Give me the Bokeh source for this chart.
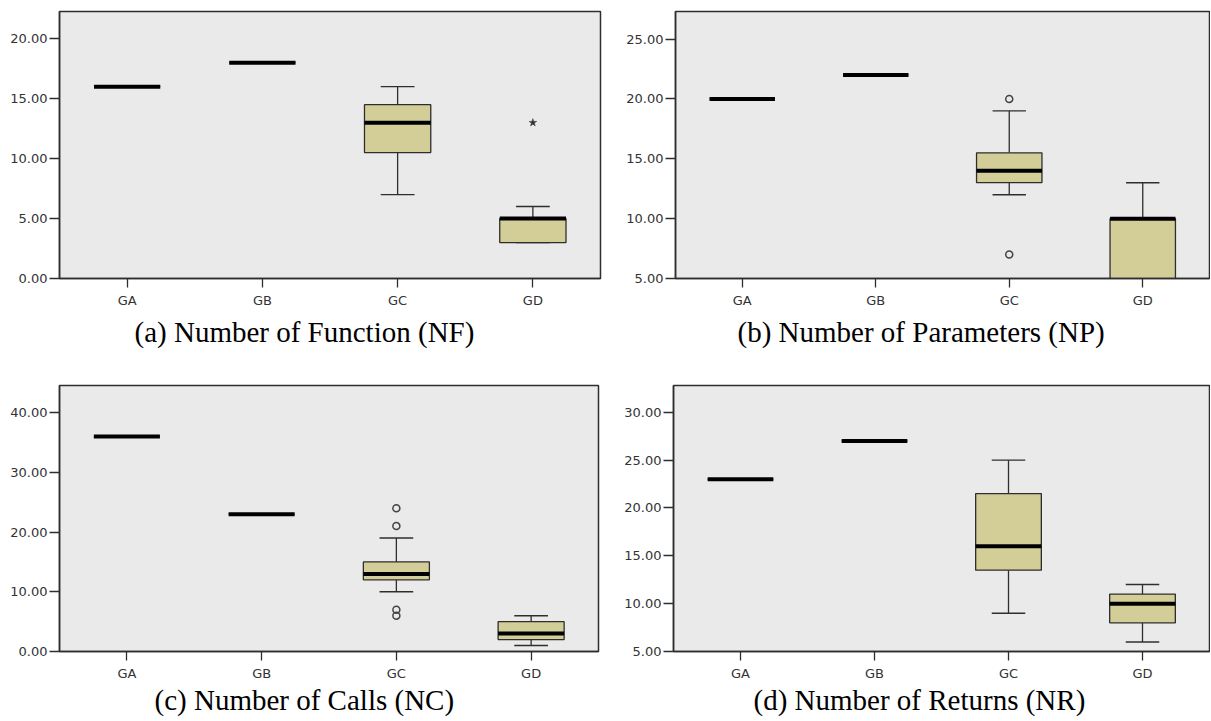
from bokeh.plotting import figure
from bokeh.layouts import row, column
from bokeh.models import Range1d, FixedTicker, PrintfTickFormatter, Title
from bokeh.embed import file_html
from bokeh.resources import INLINE

cats = ["GA", "GB", "GC", "GD"]

# (a) Number of Function (NF)
nf_low = [16, 18, 7, 3]
nf_q1 = [16, 18, 10.5, 3]
nf_med = [16, 18, 13, 5]
nf_q3 = [16, 18, 14.5, 5]
nf_high = [16, 18, 16, 6]
nf_out_cat = []
nf_out_val = []
nf_ext_cat = ["GD"]
nf_ext_val = [13]
nf_ticks = [0, 5, 10, 15, 20]

# (b) Number of Parameters (NP)
np_low = [20, 22, 12, 5]
np_q1 = [20, 22, 13, 5]
np_med = [20, 22, 14, 10]
np_q3 = [20, 22, 15.5, 10]
np_high = [20, 22, 19, 13]
np_out_cat = ["GC", "GC"]
np_out_val = [20, 7]
np_ext_cat = []
np_ext_val = []
np_ticks = [5, 10, 15, 20, 25]

# (c) Number of Calls (NC)
nc_low = [36, 23, 10, 1]
nc_q1 = [36, 23, 12, 2]
nc_med = [36, 23, 13, 3]
nc_q3 = [36, 23, 15, 5]
nc_high = [36, 23, 19, 6]
nc_out_cat = ["GC", "GC", "GC", "GC"]
nc_out_val = [24, 21, 7, 6]
nc_ext_cat = []
nc_ext_val = []
nc_ticks = [0, 10, 20, 30, 40]

# (d) Number of Returns (NR)
nr_low = [23, 27, 9, 6]
nr_q1 = [23, 27, 13.5, 8]
nr_med = [23, 27, 16, 10]
nr_q3 = [23, 27, 21.5, 11]
nr_high = [23, 27, 25, 12]
nr_out_cat = []
nr_out_val = []
nr_ext_cat = []
nr_ext_val = []
nr_ticks = [5, 10, 15, 20, 25, 30]

captions = ["(a) Number of Function (NF)", "(b) Number of Parameters (NP)",
            "(c) Number of Calls (NC)", "(d) Number of Returns (NR)"]

BOX = "#d3ce97"
DARK = "#2e2e2e"
BG = "#eaeaea"


def panel(low, q1, med, q3, high, oc, ov, ec, ev, ticks, yr, w, h, bl, br, bt, bb, cap, coff, cstand):
    p = figure(x_range=cats, y_range=Range1d(*yr), width=w, height=h,
               output_backend="svg", toolbar_location=None,
               min_border_left=bl, min_border_right=br, min_border_top=bt, min_border_bottom=bb)
    p.background_fill_color = BG
    p.border_fill_color = "white"
    p.outline_line_color = DARK
    p.outline_line_width = 1.5
    p.xgrid.visible = False
    p.ygrid.visible = False
    for ax in (p.xaxis[0], p.yaxis[0]):
        ax.axis_line_color = DARK
        ax.axis_line_width = 1.5
        ax.major_tick_line_color = DARK
        ax.major_tick_line_width = 1.3
        ax.minor_tick_line_color = None
        ax.major_tick_in = 0
        ax.major_label_text_font = "DejaVu Sans"
        ax.major_label_text_font_size = "13px"
        ax.major_label_text_color = "#333333"
    p.yaxis[0].ticker = FixedTicker(ticks=ticks)
    p.yaxis[0].formatter = PrintfTickFormatter(format="%.2f")
    p.yaxis[0].major_tick_out = 10
    p.yaxis[0].major_label_standoff = 2
    p.xaxis[0].major_tick_out = 9
    p.xaxis[0].major_label_standoff = 5

    p.segment(x0=cats, y0=q3, x1=cats, y1=high, line_color=DARK, line_width=1.3)
    p.segment(x0=cats, y0=q1, x1=cats, y1=low, line_color=DARK, line_width=1.3)
    p.rect(x=cats, y=high, width=0.25, height=1.4, height_units="screen",
           fill_color=DARK, line_color=None)
    p.rect(x=cats, y=low, width=0.25, height=1.4, height_units="screen",
           fill_color=DARK, line_color=None)
    p.vbar(x=cats, bottom=q1, top=q3, width=0.49, fill_color=BOX,
           line_color=DARK, line_width=1.3)
    p.rect(x=cats, y=med, width=0.49, height=4, height_units="screen",
           fill_color="black", line_color=None)
    if oc:
        p.scatter(x=oc, y=ov, marker="circle", size=7, fill_color=None,
                  line_color="#444444", line_width=1.5)
    if ec:
        p.scatter(x=ec, y=ev, marker="star", size=8, fill_color="#333333",
                  line_color="#333333", line_width=0.5)
    p.add_layout(Title(text=cap, align="left", offset=coff, vertical_align="top",
                       standoff=cstand, text_font="Liberation Serif",
                       text_font_size="29px", text_font_style="normal",
                       text_color="black"), "below")
    return p


pa = panel(nf_low, nf_q1, nf_med, nf_q3, nf_high, nf_out_cat, nf_out_val, nf_ext_cat, nf_ext_val,
           nf_ticks, (0, 22.27), 610, 372, 59, 10, 10, 94, captions[0], 75, 10)
pb = panel(np_low, np_q1, np_med, np_q3, np_high, np_out_cat, np_out_val, np_ext_cat, np_ext_val,
           np_ticks, (5, 27.3), 600, 372, 65, 1, 11, 94, captions[1], 62, 10)
pc = panel(nc_low, nc_q1, nc_med, nc_q3, nc_high, nc_out_cat, nc_out_val, nc_ext_cat, nc_ext_val,
           nc_ticks, (0, 44.55), 610, 349, 59, 12, 13, 69, captions[2], 95, 0)
pd_ = panel(nr_low, nr_q1, nr_med, nr_q3, nr_high, nr_out_cat, nr_out_val, nr_ext_cat, nr_ext_val,
            nr_ticks, (5, 32.8), 600, 349, 63, 1, 12, 70, captions[3], 80, 0)

layout = column(row(pa, pb, spacing=0), row(pc, pd_, spacing=0), spacing=0)
open("out.html", "w").write(file_html(layout, INLINE))
